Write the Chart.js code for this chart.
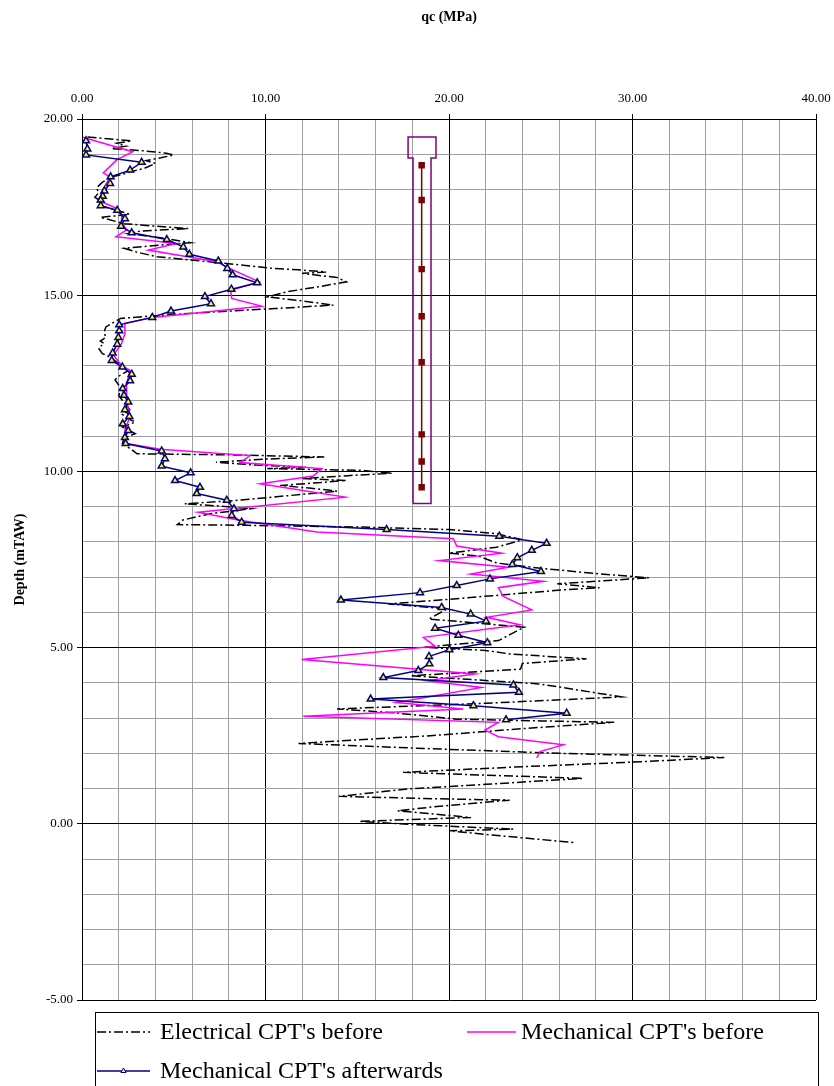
<!DOCTYPE html>
<html>
<head>
<meta charset="utf-8">
<title>qc (MPa)</title>
<script src="https://cdn.jsdelivr.net/npm/chart.js@4.4.0/dist/chart.umd.min.js"></script>
<style>
    html, body { margin: 0; padding: 0; background: #fff; }
    #wrap { width: 834px; height: 1086px; }
</style>
</head>
<body>
<div id="wrap"><canvas id="cptChart" width="834" height="1086"></canvas></div>
<script>
// 轴范围
const qcMin = 0, qcMax = 40;
const depthMin = -5, depthMax = 20;

// Electrical CPT's before
const elecDepth = [19.49, 19.38, 19.31, 19.23, 19.16, 19.10, 19.03, 18.98, 18.90, 18.82, 18.74, 18.60, 18.50, 18.46, 18.35, 18.20, 18.05, 17.90, 17.78, 17.68,
    17.55, 17.45, 17.30, 17.25, 17.21, 17.03, 16.98, 16.89, 16.82, 16.75, 16.62, 16.49, 16.42, 16.33, 16.22, 16.09, 15.93, 15.76, 15.72, 15.66,
    15.62, 15.50, 15.38, 15.25, 15.10, 14.95, 14.85, 14.72, 14.62, 14.52, 14.42, 14.34, 14.22, 14.10, 13.95, 13.80, 13.70, 13.63, 13.50, 13.35,
    13.25, 13.10, 12.98, 12.85, 12.70, 12.60, 12.45, 12.30, 12.15, 12.02, 11.90, 11.75, 11.62, 11.50, 11.40, 11.26, 11.07, 10.95, 10.79, 10.62,
    10.50, 10.47, 10.41, 10.35, 10.26, 10.18, 10.12, 10.08, 10.03, 9.95, 9.88, 9.80, 9.74, 9.60, 9.52, 9.44, 9.30, 9.18, 9.08, 9.02,
    8.94, 8.80, 8.62, 8.49, 8.47, 8.42, 8.35, 8.23, 8.06, 7.85, 7.68, 7.60, 7.40, 7.25, 7.10, 6.98, 6.81, 6.70, 6.65, 6.50,
    6.35, 6.24, 6.10, 5.81, 5.72, 5.58, 5.20, 5.10, 5.01, 4.92, 4.82, 4.68, 4.55, 4.39, 4.28, 4.20, 4.10, 3.97, 3.80, 3.60,
    3.42, 3.26, 3.15, 2.97, 2.92, 2.88, 2.70, 2.50, 2.38, 2.28, 2.15, 2.00, 1.88, 1.75, 1.62, 1.46, 1.38, 1.29, 1.12, 0.99,
    0.78, 0.72, 0.67, 0.50, 0.37, 0.18, 0.07, -0.02, -0.15, -0.20, -0.35, -0.53];
const elecQc = [0.3, 2.7, 1.9, 2.4, 1.6, 3.3, 4.6, 5.0, 4.3, 3.5, 4.0, 3.4, 2.6, 2.4, 1.6, 1.1, 0.8, 0.9, 0.7, 1.0,
    0.9, 1.6, 2.6, 1.8, 1.0, 2.3, 3.5, 5.8, 3.2, 2.5, 4.4, 5.9, 4.2, 2.3, 3.0, 4.1, 7.3, 10.4, 11.8, 13.3,
    12.0, 13.9, 14.4, 13.0, 11.2, 10.1, 11.8, 13.7, 10.5, 7.0, 4.0, 2.1, 1.7, 1.3, 1.2, 1.3, 1.0, 1.2, 0.9, 1.1,
    1.5, 1.9, 2.2, 2.5, 2.0, 1.8, 2.0, 2.1, 2.0, 2.2, 2.4, 2.6, 2.2, 2.5, 2.9, 2.2, 2.9, 2.3, 2.2, 2.7,
    3.0, 8.0, 13.2, 10.0, 7.3, 9.5, 12.2, 10.1, 15.2, 16.9, 14.5, 12.0, 14.4, 10.8, 12.5, 13.9, 11.0, 8.5, 5.6, 7.4,
    9.2, 7.0, 5.5, 5.2, 9.0, 15.2, 20.0, 22.6, 24.0, 22.6, 20.0, 21.6, 22.6, 25.0, 28.0, 30.9, 25.9, 28.2, 26.5, 23.0,
    19.5, 16.7, 19.9, 18.9, 21.0, 24.1, 22.7, 20.5, 18.6, 22.0, 23.3, 27.5, 24.0, 23.9, 20.5, 17.9, 21.0, 24.9, 27.0, 29.4,
    22.0, 13.9, 17.0, 20.4, 25.0, 29.0, 24.0, 19.0, 15.0, 11.8, 18.0, 26.0, 35.0, 30.0, 24.0, 17.5, 22.0, 27.3, 22.0, 17.8,
    14.0, 18.5, 23.3, 19.5, 17.2, 21.2, 15.1, 18.0, 23.5, 20.0, 23.0, 26.8];

// Mechanical CPT's before
const mechDepth = [19.48, 19.07, 18.84, 18.47, 18.36, 18.15, 17.95, 17.68, 17.46, 17.30, 17.08, 16.85, 16.66, 16.47, 16.28, 15.95, 15.71, 15.38, 15.14, 14.91,
    14.69, 14.37, 14.20, 13.91, 13.63, 13.30, 13.01, 12.87, 12.49, 12.02, 11.54, 11.21, 10.79, 10.63, 10.45, 10.25, 10.08, 9.87, 9.65, 9.27,
    8.84, 8.62, 8.28, 8.09, 7.88, 7.68, 7.47, 7.28, 7.09, 6.88, 6.70, 6.45, 6.07, 5.86, 5.65, 5.29, 5.04, 4.66, 4.25, 4.06,
    3.87, 3.44, 3.26, 3.05, 2.88, 2.66, 2.47, 2.24, 2.05, 1.87];
const mechQc = [0.04, 2.76, 1.89, 1.16, 1.53, 1.30, 1.10, 0.94, 1.92, 2.16, 2.16, 2.43, 1.85, 5.16, 3.61, 7.34, 8.25, 9.66, 8.10, 8.16,
    9.79, 3.83, 2.34, 2.34, 2.16, 1.71, 2.16, 2.62, 2.43, 2.43, 2.62, 2.34, 2.43, 4.25, 9.16, 8.61, 13.06, 12.61, 9.70, 14.33,
    6.34, 8.50, 12.80, 20.24, 20.42, 22.87, 19.47, 23.23, 21.18, 25.14, 22.69, 22.96, 24.51, 22.05, 23.87, 18.60, 19.24, 11.97, 21.42, 18.78,
    21.78, 17.15, 20.78, 12.06, 22.69, 21.96, 22.69, 26.23, 24.96, 24.78];

// Mechanical CPT's afterwards
const afterDepth = [19.38, 19.15, 18.98, 18.77, 18.55, 18.36, 18.17, 17.96, 17.81, 17.70, 17.54, 17.41, 17.17, 16.96, 16.77, 16.58, 16.37, 16.16, 15.97, 15.76,
    15.58, 15.35, 15.17, 14.96, 14.76, 14.55, 14.37, 14.16, 13.99, 13.80, 13.61, 13.36, 13.15, 12.96, 12.76, 12.57, 12.35, 12.16, 11.97, 11.75,
    11.56, 11.35, 11.16, 10.96, 10.79, 10.58, 10.36, 10.15, 9.96, 9.74, 9.55, 9.37, 9.18, 8.94, 8.75, 8.56, 8.35, 8.16, 7.96, 7.76,
    7.55, 7.36, 7.16, 6.95, 6.76, 6.56, 6.35, 6.14, 5.95, 5.75, 5.55, 5.35, 5.14, 4.94, 4.75, 4.54, 4.35, 4.15, 3.94, 3.73,
    3.54, 3.35, 3.14, 2.95];
const afterQc = [0.22, 0.29, 0.22, 3.25, 2.62, 1.56, 1.53, 1.22, 1.13, 1.02, 1.02, 1.92, 2.34, 2.13, 2.71, 4.62, 5.52, 5.85, 7.43, 7.92,
    8.21, 9.55, 8.14, 6.70, 7.03, 4.85, 3.83, 2.03, 2.03, 1.98, 1.92, 1.67, 1.62, 2.20, 2.71, 2.62, 2.22, 2.29, 2.52, 2.34,
    2.58, 2.22, 2.52, 2.34, 2.38, 4.34, 4.52, 4.34, 5.92, 5.07, 6.43, 6.25, 7.89, 8.28, 8.16, 8.70, 16.60, 22.74, 25.32, 24.51,
    23.72, 23.45, 25.01, 22.23, 20.42, 18.42, 14.11, 19.60, 21.18, 22.02, 19.24, 20.51, 22.09, 20.02, 18.91, 18.93, 18.33, 16.42, 23.51, 23.81,
    15.73, 21.33, 26.41, 23.11];

// 桩示意 (pile)
const pileOutlineQc = [18.04, 18.04, 17.77, 17.77, 19.29, 19.29, 19.02, 19.02, 18.04];
const pileOutlineDepth = [9.09, 18.89, 18.89, 19.49, 19.49, 18.89, 18.89, 9.09, 9.09];
const pileMarkQc = 18.51;
const pileMarkDepth = [18.69, 17.70, 15.74, 14.40, 13.10, 11.05, 10.28, 9.55];

const toPoints = (qc, depth) => depth.map((d, i) => ({ x: Array.isArray(qc) ? qc[i] : qc, y: d }));

const SERIF = '"Liberation Serif", "Times New Roman", serif';

/**
 * 图例（带边框）
 */
const boxedLegend = {
    id: 'boxedLegend',
    afterDraw(chart) {
        const ctx = chart.ctx;
        const items = chart.data.datasets.filter(ds => ds.inLegend);
        const slots = [
            { x: 97, len: 53, textX: 160, y: 1032 },
            { x: 467, len: 49, textX: 521, y: 1032 },
            { x: 97, len: 53, textX: 160, y: 1071 }
        ];
        ctx.save();
        ctx.strokeStyle = '#000';
        ctx.lineWidth = 1;
        ctx.strokeRect(95.5, 1012.5, 723, 100);
        ctx.font = '24px ' + SERIF;
        ctx.textBaseline = 'middle';
        items.forEach((ds, i) => {
            const s = slots[i];
            ctx.strokeStyle = ds.borderColor;
            ctx.lineWidth = ds.borderWidth;
            ctx.setLineDash(ds.borderDash || []);
            ctx.beginPath();
            ctx.moveTo(s.x, s.y);
            ctx.lineTo(s.x + s.len, s.y);
            ctx.stroke();
            ctx.setLineDash([]);
            if (ds.pointStyle === 'triangle') {
                ctx.fillStyle = ds.pointBackgroundColor;
                ctx.strokeStyle = ds.pointBorderColor;
                ctx.lineWidth = 1;
                Chart.helpers.drawPoint(ctx, { pointStyle: 'triangle', radius: 3, borderWidth: 1 }, s.x + s.len / 2, s.y);
            }
            ctx.fillStyle = '#000';
            ctx.fillText(ds.label, s.textX, s.y + 1);
        });
        ctx.restore();
    }
};

const majorColor = (step) => (c) => (c.tick && Math.abs(c.tick.value % step) < 1e-9) ? '#000000' : '#a0a0a0';
const majorTick = (step) => (c) => (c.tick && Math.abs(c.tick.value % step) < 1e-9) ? '#000000' : 'rgba(0,0,0,0)';

new Chart(document.getElementById('cptChart'), {
    type: 'scatter',
    data: {
        datasets: [{
            label: "Electrical CPT's before",
            inLegend: true,
            data: toPoints(elecQc, elecDepth),
            showLine: true,
            borderColor: '#000000',
            borderWidth: 1.5,
            borderDash: [9, 3, 2, 3],
            pointRadius: 0,
            order: 3
        }, {
            label: "Mechanical CPT's before",
            inLegend: true,
            data: toPoints(mechQc, mechDepth),
            showLine: true,
            borderColor: '#ff00ff',
            borderWidth: 1.5,
            pointRadius: 0,
            order: 2
        }, {
            label: "Mechanical CPT's afterwards",
            inLegend: true,
            data: toPoints(afterQc, afterDepth),
            showLine: true,
            borderColor: '#000080',
            borderWidth: 1.5,
            pointStyle: 'triangle',
            pointRadius: 4,
            pointBackgroundColor: '#ffff00',
            pointBorderColor: '#000080',
            pointBorderWidth: 1.5,
            order: 1
        }, {
            label: 'pile',
            data: toPoints(pileOutlineQc, pileOutlineDepth),
            showLine: true,
            borderColor: '#800080',
            borderWidth: 1.5,
            pointRadius: 0,
            order: 5
        }, {
            label: 'pile markers',
            data: toPoints(pileMarkQc, pileMarkDepth),
            showLine: true,
            borderColor: '#800000',
            borderWidth: 1.5,
            pointStyle: 'rect',
            pointRadius: 3.5,
            pointBackgroundColor: '#800000',
            pointBorderColor: '#800000',
            order: 4
        }]
    },
    options: {
        responsive: false,
        animation: false,
        layout: { padding: { top: 0, left: 0, right: 18, bottom: 86 } },
        plugins: {
            legend: { display: false },
            tooltip: { enabled: false }
        },
        scales: {
            x: {
                type: 'linear',
                position: 'top',
                min: qcMin,
                max: qcMax,
                afterFit: (scale) => {
                    scale.height = 119;
                    scale.paddingLeft = 0;
                    scale.paddingRight = 0;
                },
                ticks: {
                    stepSize: 2,
                    autoSkip: false,
                    maxRotation: 0,
                    padding: 8,
                    color: '#000',
                    font: { family: SERIF, size: 13 },
                    callback: (v) => (v % 10 === 0 ? v.toFixed(2) : '')
                },
                grid: {
                    color: majorColor(10),
                    tickColor: majorTick(10),
                    tickLength: 5,
                    lineWidth: 1
                },
                border: { display: true, color: '#000', width: 1 },
                title: {
                    display: true,
                    text: 'qc (MPa)',
                    color: '#000',
                    font: { family: SERIF, size: 14, weight: 'bold' },
                    padding: { top: 9, bottom: 0 }
                }
            },
            y: {
                type: 'linear',
                min: depthMin,
                max: depthMax,
                afterFit: (scale) => {
                    scale.width = 82;
                    scale.paddingTop = 0;
                    scale.paddingBottom = 0;
                },
                ticks: {
                    stepSize: 1,
                    autoSkip: false,
                    padding: 4,
                    color: '#000',
                    font: { family: SERIF, size: 13 },
                    callback: (v) => (v % 5 === 0 ? v.toFixed(2) : '')
                },
                grid: {
                    color: majorColor(5),
                    tickColor: majorTick(5),
                    tickLength: 5,
                    lineWidth: 1
                },
                border: { display: true, color: '#000', width: 1 },
                title: {
                    display: true,
                    text: 'Depth (mTAW)',
                    color: '#000',
                    font: { family: SERIF, size: 14, weight: 'bold' },
                    padding: { top: 12, bottom: 0 }
                }
            }
        }
    },
    plugins: [boxedLegend]
});
</script>
</body>
</html>
